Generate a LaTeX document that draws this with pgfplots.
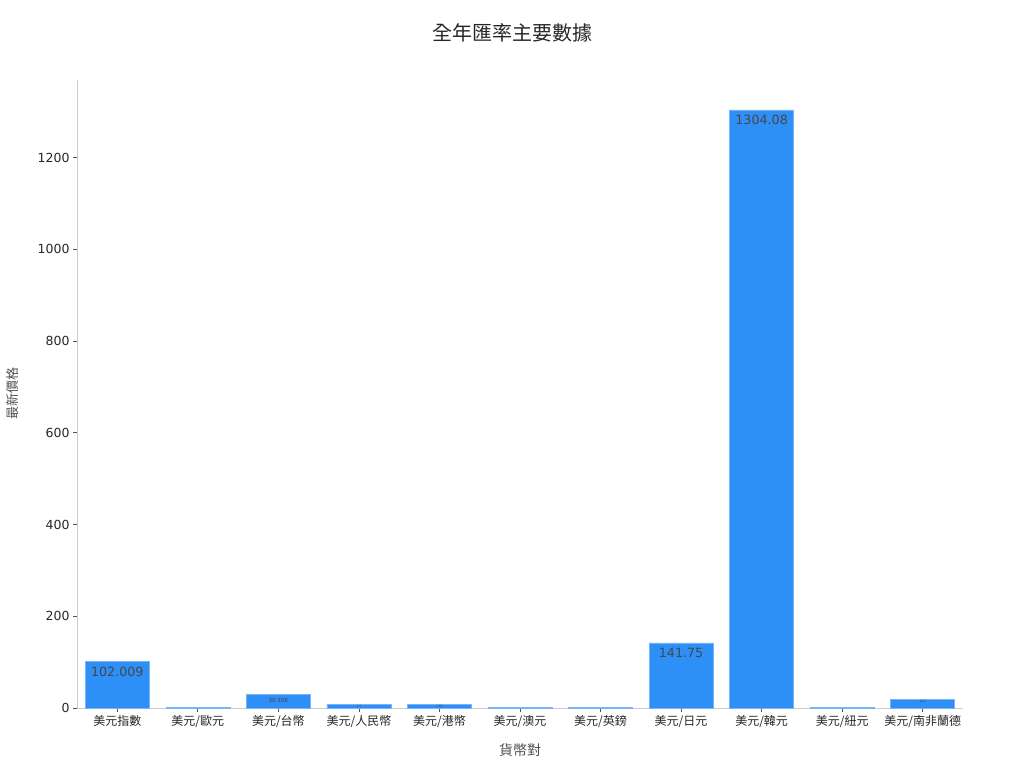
\documentclass[border=0pt]{standalone}
\usepackage{pgfplots}
\pgfplotsset{compat=1.18}
\usepackage{fontspec}
\setmainfont{DejaVu Sans}
\newfontfamily\cjk{Noto Sans CJK TC}
\definecolor{barblue}{RGB}{46,143,247}
\definecolor{baredge}{RGB}{120,180,250}
\definecolor{spine}{RGB}{204,204,204}
\definecolor{txt}{RGB}{38,38,38}
\begin{document}
\begin{tikzpicture}[x=1pt,y=1pt]
\useasboundingbox (0,0) rectangle (1024,768);
\begin{axis}[
  at={(77pt,60pt)}, anchor=south west,
  scale only axis, width=886pt, height=628pt,
  ybar, bar width=64pt, bar shift=0pt,
  xmin=-0.5, xmax=10.5, ymin=0, ymax=1369.3,
  xtick={0,...,10},
  xticklabels={美元指數,美元/歐元,美元/台幣,美元/人民幣,美元/港幣,美元/澳元,美元/英鎊,美元/日元,美元/韓元,美元/紐元,美元/南非蘭德},
  ytick={0,200,400,600,800,1000,1200},
  axis x line*=bottom, axis y line*=left,
  axis line style={spine, line width=0.8pt},
  tick style={txt!80, line width=0.8pt},
  tick align=outside, major tick length=4pt,
  xticklabel style={font=\cjk\fontsize{12}{14}\selectfont, text=txt},
  yticklabel style={font=\fontsize{12.5}{14}\selectfont, text=txt},
  /pgf/number format/assume math mode=true,
  /pgf/number format/1000 sep={},
  xlabel={\cjk 貨幣對}, ylabel={\cjk 最新價格},
  xlabel style={font=\cjk\fontsize{14}{16}\selectfont, text=txt!80, yshift=-9pt},
  ylabel style={font=\cjk\fontsize{13}{15}\selectfont, text=txt!80, yshift=12pt},
  title={\cjk 全年匯率主要數據},
  title style={font=\cjk\fontsize{20}{23}\selectfont, text=txt, at={(axis description cs:0.5,1)}, yshift=28pt, xshift=-8pt},
  clip=false,
]
\addplot[fill=barblue, draw=baredge, line width=0.6pt] coordinates {
(0,102.009) (1,0.92) (2,30.308) (3,7.2) (4,7.83) (5,1.5) (6,0.79) (7,141.75) (8,1304.08) (9,1.63) (10,18.6)};
% large labels
\addplot[draw=none, fill=none, forget plot,
  nodes near coords, point meta=explicit symbolic,
  every node near coord/.append style={anchor=north, yshift=-2pt, font=\fontsize{12.7}{14}\selectfont, text=txt!85}]
  coordinates {(0,102.009)[102.009] (7,141.75)[141.75] (8,1304.08)[1304.08]};
% medium label
\addplot[draw=none, fill=none, forget plot,
  nodes near coords, point meta=explicit symbolic,
  every node near coord/.append style={anchor=north, yshift=-1pt, font=\fontsize{5.5}{6}\selectfont, text=txt!85}]
  coordinates {(2,30.308)[30.308]};
% tiny labels
\addplot[draw=none, fill=none, forget plot,
  nodes near coords, point meta=explicit symbolic,
  every node near coord/.append style={anchor=north, yshift=0pt, inner sep=0.3pt, font=\fontsize{3}{3.5}\selectfont, text=txt!85}]
  coordinates {(3,7.2)[7.2] (4,7.83)[7.83] (10,18.6)[18.6]};
\end{axis}
\end{tikzpicture}
\end{document}
